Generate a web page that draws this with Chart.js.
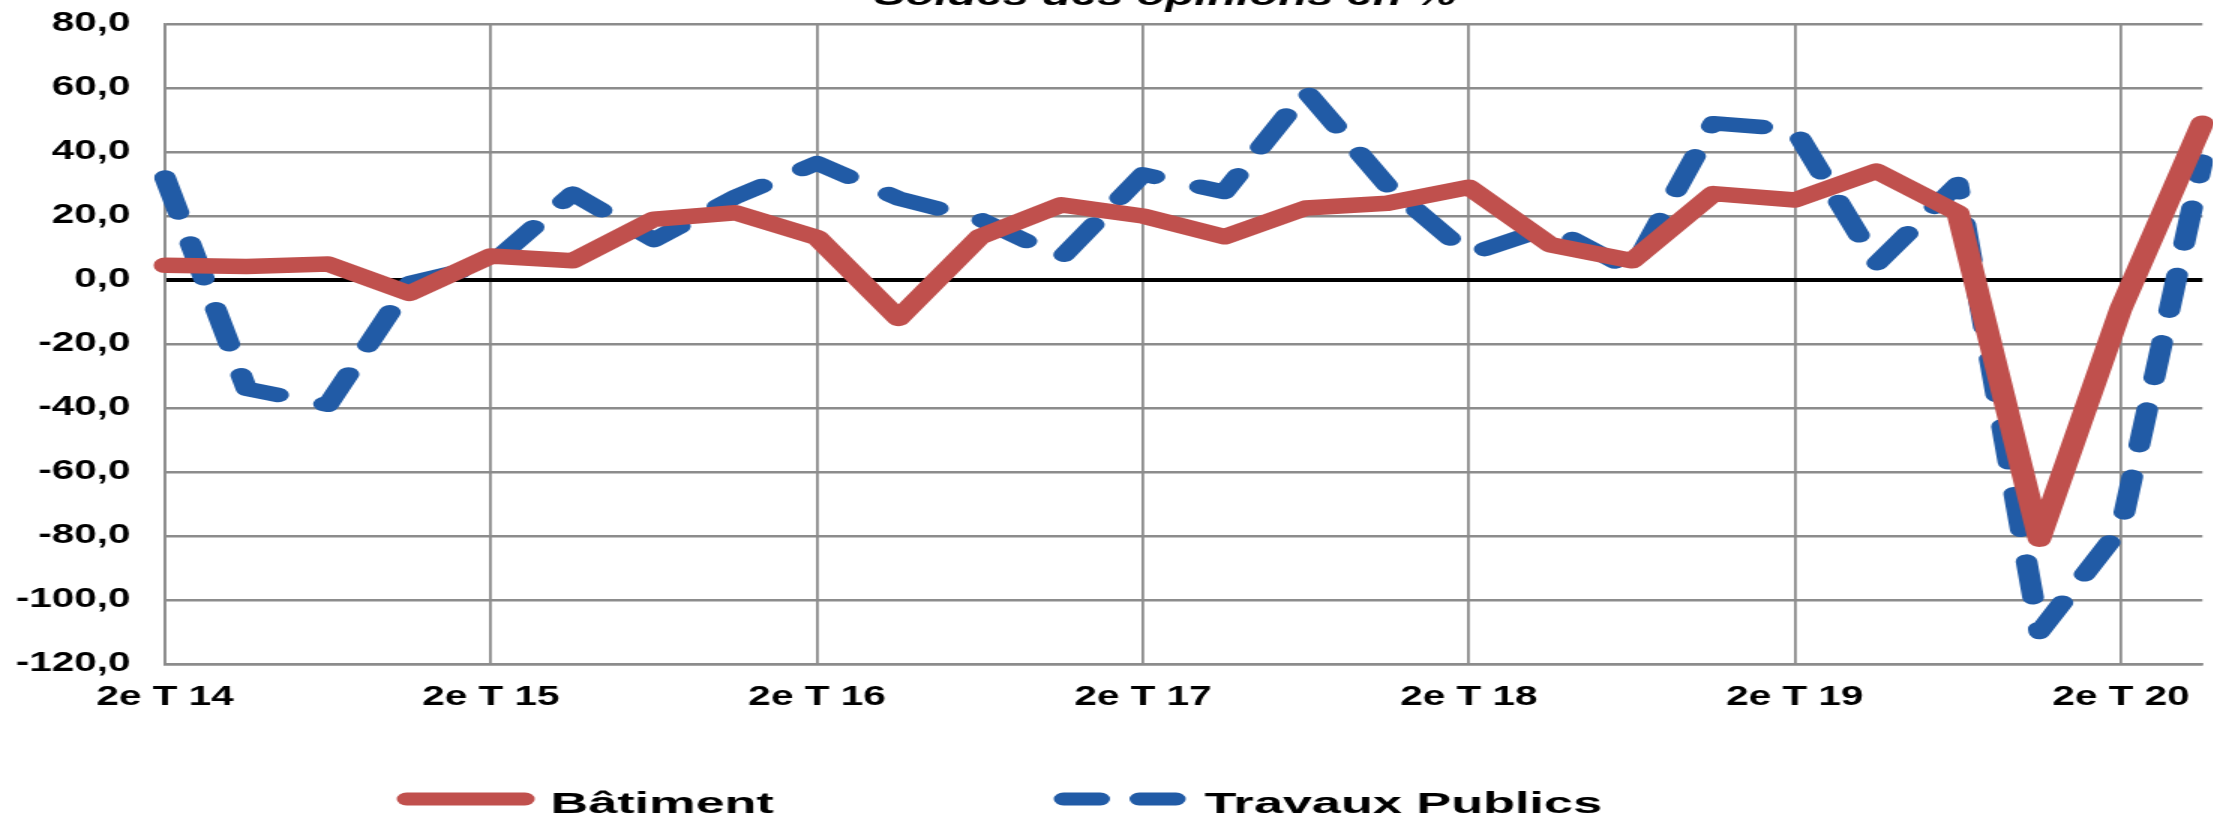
<!DOCTYPE html>
<html lang="fr">
<head>
<meta charset="utf-8">
<title>Soldes des opinions en %</title>
<script src="https://cdn.jsdelivr.net/npm/chart.js@4.4.1/dist/chart.umd.min.js"></script>
<style>
  html, body { margin: 0; padding: 0; background: #fff; overflow: hidden; }
  /* the reference is stretched horizontally, so the chart is drawn narrow and widened */
  #wrap { position: absolute; left: 0; top: 0; width: 1476px; height: 818px; transform: scaleX(1.5); transform-origin: 0 0; }
</style>
</head>
<body>
<div id="wrap"><canvas id="soldesChart"></canvas></div>
<script>
const titleText = 'Soldes des opinions en %';

const quarters = [
    '2e T 14', '3e T 14', '4e T 14', '1er T 15',
    '2e T 15', '3e T 15', '4e T 15', '1er T 16',
    '2e T 16', '3e T 16', '4e T 16', '1er T 17',
    '2e T 17', '3e T 17', '4e T 17', '1er T 18',
    '2e T 18', '3e T 18', '4e T 18', '1er T 19',
    '2e T 19', '3e T 19', '4e T 19', '1er T 20',
    '2e T 20', '3e T 20'
];

const batiment = [
    4.6, 4.2, 5, -4.2, 7.5, 6, 19, 21, 13.3, -12, 13.5, 23.5,
    20, 13.5, 22.5, 24, 29, 11, 6, 27, 25, 34, 21, -81, -9, 49
];

const travauxPublics = [
    32, -34, -39, -1, 5, 27, 12.5, 26, 36.5, 25.5, 19, 7,
    33, 27.5, 59, 29.5, 8, 16.5, 3, 49, 47, 5, 30, -110, -77.5, 37
];

const yMin = -120;
const yMax = 80;
const yStep = 20;

Chart.defaults.font.family = '"Liberation Sans", Arial, sans-serif';
Chart.defaults.color = '#000';

const tickFont = { size: 27, weight: 'bold' };

// title (cut off at the top) and legend, placed like the original
const overlayPlugin = {
    id: 'overlay',
    afterDraw(chart) {
        const ctx = chart.ctx;
        const sets = chart.data.datasets;
        ctx.save();
        ctx.fillStyle = '#000';
        ctx.font = 'italic bold 31.5px "Liberation Sans", Arial, sans-serif';
        ctx.textAlign = 'center';
        ctx.textBaseline = 'alphabetic';
        ctx.fillText(titleText, 777, 5);

        const y = 799;
        // Bâtiment
        ctx.lineCap = 'round';
        ctx.lineWidth = 13;
        ctx.strokeStyle = sets[0].borderColor;
        ctx.beginPath();
        ctx.moveTo(271, y);
        ctx.lineTo(350, y);
        ctx.stroke();
        // Travaux Publics
        ctx.strokeStyle = sets[1].borderColor;
        ctx.setLineDash([24.5, 26]);
        ctx.beginPath();
        ctx.moveTo(709, y);
        ctx.lineTo(784, y);
        ctx.stroke();
        ctx.setLineDash([]);

        ctx.font = 'bold 29px "Liberation Sans", Arial, sans-serif';
        ctx.textAlign = 'left';
        [[367, sets[0].label], [803, sets[1].label]].forEach(function(item) {
            ctx.save();
            ctx.translate(item[0], 813);
            ctx.scale(1.2, 1);
            ctx.fillText(item[1], 0, 0);
            ctx.restore();
        });
        ctx.restore();
    }
};

const chartElement = document.getElementById('soldesChart');

new Chart(chartElement, {
    type: 'line',
    data: {
        labels: quarters,
        datasets: [{
            label: 'Bâtiment',
            data: batiment,
            borderColor: '#C0504D',
            backgroundColor: '#C0504D',
            borderWidth: 15.5,
            borderCapStyle: 'round',
            borderJoinStyle: 'round',
            pointRadius: 0,
            tension: 0
        }, {
            label: 'Travaux Publics',
            data: travauxPublics,
            borderColor: '#215BA6',
            backgroundColor: '#215BA6',
            borderWidth: 14.5,
            borderDash: [36, 32],
            borderCapStyle: 'round',
            borderJoinStyle: 'round',
            pointRadius: 0,
            tension: 0
        }]
    },
    options: {
        responsive: true,
        maintainAspectRatio: false,
        animation: false,
        layout: { padding: { top: 24, right: 0, bottom: 0, left: 0 } },
        plugins: {
            legend: { display: false },
            title: { display: false },
            tooltip: { enabled: false }
        },
        scales: {
            x: {
                offset: false,
                grid: {
                    color: ctx => ctx.index % 4 === 0 ? '#8c8c8c' : 'rgba(0,0,0,0)',
                    lineWidth: 1.8,
                    drawTicks: false
                },
                border: { color: '#8c8c8c', width: 2.5 },
                ticks: {
                    autoSkip: false,
                    maxRotation: 0,
                    padding: 17,
                    color: '#000',
                    font: tickFont,
                    callback: (value, index) => index % 4 === 0 ? quarters[index] : ''
                },
                afterFit: scale => {
                    scale.height = 154;
                    scale.paddingLeft = 0;
                    scale.paddingRight = 0;
                }
            },
            y: {
                min: yMin,
                max: yMax,
                grid: {
                    color: ctx => ctx.tick && ctx.tick.value === 0 ? '#000' : '#8c8c8c',
                    lineWidth: ctx => ctx.tick && ctx.tick.value === 0 ? 4 : 2.5,
                    drawTicks: false
                },
                border: { color: '#8c8c8c', width: 1.8 },
                ticks: {
                    stepSize: yStep,
                    padding: 23,
                    color: '#000',
                    font: tickFont,
                    callback: value => value.toFixed(1).replace('.', ',')
                },
                afterFit: scale => {
                    scale.width = 110;
                    scale.paddingTop = 0;
                    scale.paddingBottom = 0;
                }
            }
        }
    },
    plugins: [overlayPlugin]
});
</script>
</body>
</html>
